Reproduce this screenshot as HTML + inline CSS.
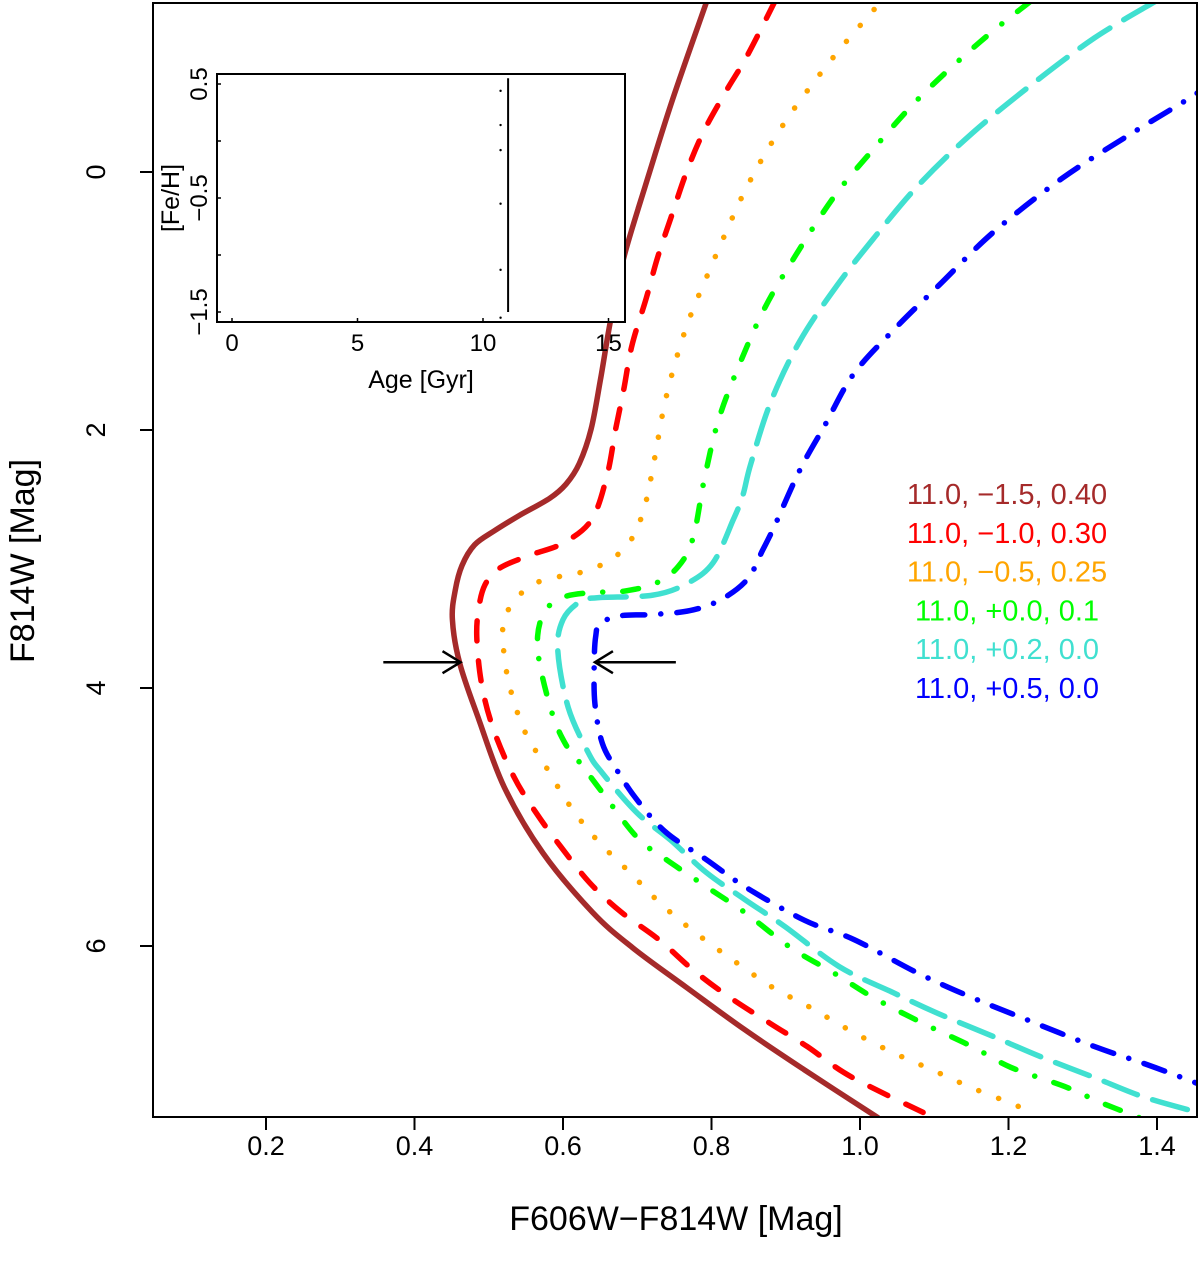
<!DOCTYPE html>
<html><head><meta charset="utf-8">
<style>
html,body{margin:0;padding:0;background:#fff;}
svg{display:block;font-family:"Liberation Sans",Arial,sans-serif;}
</style></head>
<body>
<svg id="chart" width="1200" height="1270" viewBox="0 0 1200 1270" xmlns="http://www.w3.org/2000/svg">
<defs><clipPath id="plotclip"><rect x="153" y="3" width="1044" height="1114"/></clipPath></defs>
<g id="curves" clip-path="url(#plotclip)"></g>
<rect x="153" y="3" width="1044" height="1114" fill="none" stroke="#000" stroke-width="2"/>
<g id="axes"></g>
<g id="inset"></g>
<g id="legend"></g>
<text x="676" y="1230" text-anchor="middle" font-size="34">F606W−F814W [Mag]</text>
<text transform="translate(34,561) rotate(-90)" text-anchor="middle" font-size="34">F814W [Mag]</text>
</svg>
<script>
const xTicks=[0.2,0.4,0.6,0.8,1.0,1.2,1.4];
const yTicks=[0,2,4,6];
const brownC=[0.794,0.748,0.714,0.683,0.665,0.651,0.638,0.622,0.604,0.582,0.542,0.508,0.481,0.464,0.455,0.451,0.461,0.487,0.521,0.573,0.640,0.693,0.766,0.845,0.925,1.024];
const brownM=[-1.33,-0.57,0.05,0.64,1.12,1.59,1.99,2.26,2.42,2.53,2.66,2.78,2.89,3.05,3.24,3.47,3.81,4.25,4.77,5.28,5.74,6.01,6.32,6.65,6.96,7.33];
const redC=[0.886,0.848,0.820,0.790,0.767,0.745,0.727,0.712,0.693,0.682,0.671,0.659,0.638,0.599,0.556,0.515,0.495,0.486,0.484,0.491,0.507,0.534,0.564,0.597,0.636,0.679,0.729,0.776,0.825,0.879,0.929,0.978,1.031,1.085];
const redM=[-1.33,-0.90,-0.63,-0.32,-0.01,0.36,0.67,0.98,1.34,1.68,1.99,2.36,2.70,2.88,2.97,3.07,3.20,3.40,3.63,3.99,4.33,4.69,4.97,5.23,5.51,5.74,5.95,6.19,6.40,6.60,6.78,6.98,7.14,7.29];
const orangeC=[1.019,0.977,0.941,0.904,0.871,0.843,0.817,0.793,0.770,0.751,0.736,0.725,0.714,0.706,0.694,0.675,0.650,0.620,0.592,0.562,0.538,0.522,0.519,0.527,0.548,0.577,0.609,0.646,0.690,0.733,0.779,0.829,0.882,0.931,0.985,1.042,1.097,1.151,1.208,1.237];
const orangeM=[-1.26,-0.98,-0.72,-0.43,-0.13,0.17,0.50,0.82,1.14,1.48,1.82,2.17,2.50,2.67,2.83,2.96,3.05,3.11,3.14,3.19,3.30,3.45,3.63,3.96,4.33,4.61,4.91,5.18,5.43,5.68,5.90,6.11,6.32,6.47,6.65,6.82,6.96,7.10,7.23,7.31];
const greenC=[1.229,1.162,1.079,1.011,0.964,0.914,0.872,0.837,0.809,0.790,0.775,0.755,0.724,0.681,0.639,0.599,0.573,0.566,0.584,0.603,0.627,0.653,0.700,0.739,0.793,0.845,0.906,0.965,1.018,1.085,1.151,1.203,1.276,1.323,1.376];
const greenM=[-1.32,-1.01,-0.57,-0.13,0.20,0.64,1.05,1.50,1.93,2.39,2.84,3.06,3.19,3.25,3.26,3.30,3.43,3.71,4.17,4.43,4.61,4.81,5.16,5.33,5.54,5.74,6.01,6.21,6.40,6.60,6.78,6.94,7.09,7.21,7.33];
const cyanC=[1.397,1.316,1.234,1.151,1.079,1.019,0.969,0.919,0.880,0.853,0.842,0.829,0.802,0.767,0.721,0.646,0.623,0.600,0.593,0.607,0.634,0.653,0.700,0.745,0.793,0.845,0.899,0.972,1.044,1.104,1.183,1.244,1.316,1.382,1.455];
const cyanM=[-1.32,-1.04,-0.69,-0.30,0.10,0.51,0.88,1.31,1.78,2.26,2.51,2.70,3.03,3.19,3.28,3.30,3.33,3.47,3.71,4.15,4.50,4.66,4.97,5.18,5.43,5.64,5.85,6.16,6.36,6.52,6.71,6.86,7.02,7.17,7.29];
const blueC=[1.478,1.443,1.366,1.272,1.179,1.106,1.046,0.991,0.953,0.919,0.886,0.869,0.848,0.811,0.771,0.721,0.677,0.650,0.644,0.642,0.643,0.653,0.673,0.700,0.739,0.793,0.845,0.925,0.992,1.078,1.151,1.224,1.316,1.382,1.443,1.478];
const blueM=[-0.71,-0.57,-0.30,0.05,0.47,0.88,1.22,1.57,1.96,2.31,2.73,2.93,3.16,3.32,3.40,3.43,3.44,3.50,3.60,3.81,4.12,4.43,4.64,4.87,5.12,5.33,5.54,5.80,5.95,6.21,6.40,6.57,6.78,6.91,7.04,7.12];
const legendLabels=["11.0, −1.5, 0.40","11.0, −1.0, 0.30","11.0, −0.5, 0.25","11.0, +0.0, 0.1","11.0, +0.2, 0.0","11.0, +0.5, 0.0"];
const arrowM=3.80;
const arrowLeft=[0.358,0.462];
const arrowRight=[0.752,0.643];
const insetXTicks=[0,5,10,15];
const insetYTicks=[0.5,-0.5,-1.5];
const insetAge=[11.0,11.0];
const insetFe=[0.55,-1.5];
const dotAge=[10.7,10.7,10.7,10.7,10.7,10.7];
const dotFe=[0.44,0.14,-0.08,-0.55,-1.13,-1.55];

const NS="http://www.w3.org/2000/svg";
const X=v=>266+(v-0.2)*742.5;
const Y=m=>172+m*129;
const IX=a=>232+a*25.1;
const IY=f=>84+(0.5-f)*114;
function mk(tag,attrs,parent){const e=document.createElementNS(NS,tag);for(const k in attrs)e.setAttribute(k,attrs[k]);parent.appendChild(e);return e;}
function spline(pts){let d=`M${pts[0][0]},${pts[0][1]}`;for(let i=0;i<pts.length-1;i++){const p0=pts[Math.max(0,i-1)],p1=pts[i],p2=pts[i+1],p3=pts[Math.min(pts.length-1,i+2)];const c1=[p1[0]+(p2[0]-p0[0])/6,p1[1]+(p2[1]-p0[1])/6],c2=[p2[0]-(p3[0]-p1[0])/6,p2[1]-(p3[1]-p1[1])/6];d+=`C${c1[0].toFixed(1)},${c1[1].toFixed(1)} ${c2[0].toFixed(1)},${c2[1].toFixed(1)} ${p2[0].toFixed(1)},${p2[1].toFixed(1)}`;}return d;}
const series=[
 {c:brownC,m:brownM,col:"#a52a2a",dash:"",name:"isochrone-feh-m1.5"},
 {c:redC,m:redM,col:"#ff0000",dash:"20 20",name:"isochrone-feh-m1.0"},
 {c:orangeC,m:orangeM,col:"#ffa500",dash:"0.1 21",name:"isochrone-feh-m0.5"},
 {c:greenC,m:greenM,col:"#00ff00",dash:"16 20 0.1 20",name:"isochrone-feh-0.0"},
 {c:cyanC,m:cyanM,col:"#40e0d0",dash:"36 16",name:"isochrone-feh-p0.2"},
 {c:blueC,m:blueM,col:"#0000ff",dash:"22 16 0.1 16",name:"isochrone-feh-p0.5"}];
const cg=document.getElementById('curves');
series.forEach(s=>{const pts=s.c.map((v,i)=>[X(v),Y(s.m[i])]);
 const p=mk('path',{d:spline(pts),fill:'none',stroke:s.col,'stroke-width':5.5,'stroke-linecap':'round','stroke-dasharray':s.dash},cg);
 
 });
[arrowLeft,arrowRight].forEach((a,i)=>{const g=mk('g',{},cg);
 
 
 const y=Y(arrowM),x0=X(a[0]),x1=X(a[1]),dir=Math.sign(x1-x0);
 mk('line',{x1:x0,y1:y,x2:x1,y2:y,stroke:'#000','stroke-width':2.5},g);
 mk('path',{d:`M${x1-dir*18},${y-11}L${x1},${y}L${x1-dir*18},${y+11}`,fill:'none',stroke:'#000','stroke-width':2.5},g);});
const ax=document.getElementById('axes');
xTicks.forEach(t=>{const l=mk('line',{x1:X(t),y1:1117,x2:X(t),y2:1130,stroke:'#000','stroke-width':2},ax);
 
 
 const tx=mk('text',{x:X(t),y:1155,'text-anchor':'middle','font-size':27},ax);tx.textContent=t.toFixed(1);
 
 });
yTicks.forEach(t=>{const l=mk('line',{x1:140,y1:Y(t),x2:153,y2:Y(t),stroke:'#000','stroke-width':2},ax);
 
 
 const tx=mk('text',{transform:`translate(105,${Y(t)}) rotate(-90)`,'text-anchor':'middle','font-size':27},ax);tx.textContent=t;
 
 });
const lg=document.getElementById('legend');
legendLabels.forEach((s,i)=>{const t=mk('text',{x:1007,y:504+i*38.8,'text-anchor':'middle','font-size':29,fill:series[i].col},lg);t.textContent=s;
 
 });
const ig=document.getElementById('inset');
mk('rect',{x:217,y:74,width:408,height:248,fill:'#fff',stroke:'#000','stroke-width':2},ig);
insetXTicks.forEach(t=>{mk('line',{x1:IX(t),y1:322,x2:IX(t),y2:318,stroke:'#000','stroke-width':1.5},ig);
 const tx=mk('text',{x:IX(t),y:351,'text-anchor':'middle','font-size':24},ig);tx.textContent=t;
 
 });
[0.5,0,-0.5,-1,-1.5].forEach(t=>mk('line',{x1:217,y1:IY(t),x2:221,y2:IY(t),stroke:'#000','stroke-width':1.5},ig));
insetYTicks.forEach(t=>{const tx=mk('text',{transform:`translate(207,${IY(t)}) rotate(-90)`,'text-anchor':'middle','font-size':24},ig);tx.textContent=t.toFixed(1).replace('-','−');
 
 });
const xl=mk('text',{x:421,y:388,'text-anchor':'middle','font-size':25},ig);xl.textContent='Age [Gyr]';


const yl=mk('text',{transform:'translate(179,198) rotate(-90)','text-anchor':'middle','font-size':25},ig);yl.textContent='[Fe/H]';


const vl=mk('line',{x1:IX(insetAge[0]),y1:IY(insetFe[0]),x2:IX(insetAge[1]),y2:IY(insetFe[1]),stroke:'#000','stroke-width':2},ig);


dotAge.forEach((a,i)=>{const c=mk('circle',{cx:IX(a),cy:IY(dotFe[i]),r:1.2,fill:'#000'},ig);
 
 });
</script>
</body></html>
